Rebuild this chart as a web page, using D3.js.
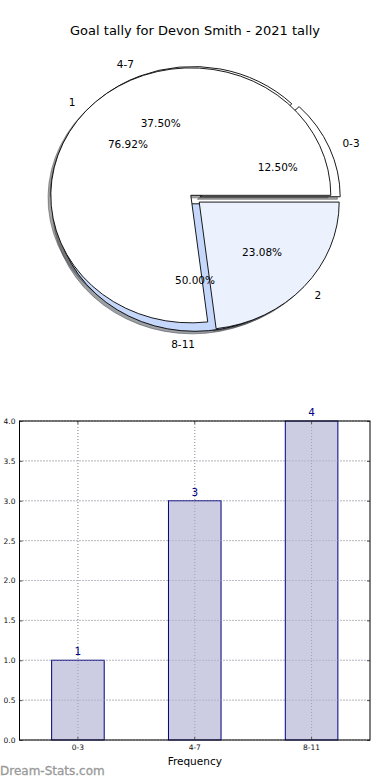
<!DOCTYPE html>
<html>
<head>
<meta charset="utf-8">
<script src="https://cdn.jsdelivr.net/npm/d3@7"></script>
<style>
  body { margin: 0; background: #fff; }
  svg { display: block; font-family: "DejaVu Sans", sans-serif; }
</style>
</head>
<body>
<div id="vis"></div>
<script>
'use strict';

// pie data (two pies drawn over each other)
var ringCats = ["0-3", "4-7", "8-11"];
var ringVals = [1, 3, 4];
var goalCats = ["1", "2"];
var goalVals = [10, 3];

// bar data
var barCats = ["0-3", "4-7", "8-11"];
var barVals = [1, 3, 4];
var yTicks = [0, 0.5, 1, 1.5, 2, 2.5, 3, 3.5, 4];

var ringColors = ["#ffffff", "#ffffff", "#c5d8fb"];
var goalColors = ["#ffffff", "#ebf1fd"];

var width = 390, height = 780;
var svg = d3.select("#vis").append("svg")
    .attr("width", width)
    .attr("height", height);

svg.append("text")
    .attr("x", 195).attr("y", 30)
    .attr("dy", "0.35em")
    .attr("text-anchor", "middle")
    .style("font-size", "13px")
    .style("fill", "#000")
    .text("Goal tally for Devon Smith - 2021 tally");

// ---- pie ----
var cx = 195, cy = 198.7;
var rx = 140, ry = 127.5;
var explode = 0.04;

var pie = d3.pie()
    .sort(null)
    .startAngle(Math.PI / 2)
    .endAngle(Math.PI / 2 - 2 * Math.PI)
    .value(function(d){ return d; });

var arc = d3.arc().innerRadius(0).outerRadius(1);

function wedges(vals, cats, colors){
    var total = d3.sum(vals);
    return pie(vals).map(function(d, i){
        var mid = (d.startAngle + d.endAngle) / 2;
        var ox = Math.sin(mid), oy = -Math.cos(mid);
        return {
            arc: d,
            label: cats[i],
            pct: (vals[i] / total * 100).toFixed(2) + "%",
            color: colors[i],
            x: cx + explode * ox * rx,
            y: cy + explode * oy * ry,
            ox: ox, oy: oy
        };
    });
}

var ring = wedges(ringVals, ringCats, ringColors);
var goals = wedges(goalVals, goalCats, goalColors);
var all = ring.concat(goals);

function shade(col){
    var c = d3.rgb(col);
    return d3.rgb(c.r * 0.3, c.g * 0.3, c.b * 0.3);
}

var pg = svg.append("g");

// shadows go under every wedge
pg.selectAll(".shadow")
    .data(all)
  .enter().append("path")
    .attr("class", "shadow")
    .attr("transform", function(d){
        return "translate(" + (d.x - 0.02 * rx) + "," + (d.y + 0.02 * ry) + ") scale(" + rx + "," + ry + ")";
    })
    .attr("d", function(d){ return arc(d.arc); })
    .attr("vector-effect", "non-scaling-stroke")
    .style("fill", function(d){ return shade(d.color); })
    .style("fill-opacity", 0.5)
    .style("stroke", function(d){ return shade(d.color); })
    .style("stroke-opacity", 0.5)
    .style("stroke-width", 1);

pg.selectAll(".wedge")
    .data(all)
  .enter().append("path")
    .attr("class", "wedge")
    .attr("transform", function(d){
        return "translate(" + d.x + "," + d.y + ") scale(" + rx + "," + ry + ")";
    })
    .attr("d", function(d){ return arc(d.arc); })
    .attr("vector-effect", "non-scaling-stroke")
    .style("fill", function(d){ return d.color; })
    .style("stroke", "#000")
    .style("stroke-width", 0.9);

pg.selectAll(".plabel")
    .data(all)
  .enter().append("text")
    .attr("class", "plabel")
    .attr("x", function(d){ return d.x + 1.1 * d.ox * rx; })
    .attr("y", function(d){ return d.y + 1.1 * d.oy * ry; })
    .attr("dy", "0.35em")
    .attr("text-anchor", function(d){ return d.ox > 0 ? "start" : "end"; })
    .style("font-size", "10.5px")
    .style("fill", "#000")
    .text(function(d){ return d.label; });

pg.selectAll(".pct")
    .data(all)
  .enter().append("text")
    .attr("class", "pct")
    .attr("x", function(d){ return d.x + 0.6 * d.ox * rx; })
    .attr("y", function(d){ return d.y + 0.6 * d.oy * ry; })
    .attr("dy", "0.35em")
    .attr("text-anchor", "middle")
    .style("font-size", "10.5px")
    .style("fill", "#000")
    .text(function(d){ return d.pct; });

// ---- bars ----
var plotLeft = 19.5, plotRight = 370, plotTop = 421, plotBottom = 740;

var x = d3.scaleBand()
    .domain(barCats)
    .range([plotLeft, plotRight])
    .paddingInner(0.55)
    .paddingOuter(0.275);
var y = d3.scaleLinear().domain([0, 4]).range([plotBottom, plotTop]);

var bg = svg.append("g");

function grid(cls, col){
    bg.selectAll("." + cls + "h")
        .data(yTicks)
      .enter().append("line")
        .attr("class", cls + "h")
        .attr("x1", plotLeft).attr("x2", plotRight)
        .attr("y1", function(d){ return y(d); })
        .attr("y2", function(d){ return y(d); })
        .style("stroke", col)
        .style("stroke-dasharray", "1,2");
    bg.selectAll("." + cls + "v")
        .data(barCats)
      .enter().append("line")
        .attr("class", cls + "v")
        .attr("x1", function(d){ return x(d) + x.bandwidth() / 2; })
        .attr("x2", function(d){ return x(d) + x.bandwidth() / 2; })
        .attr("y1", plotTop).attr("y2", plotBottom)
        .style("stroke", col)
        .style("stroke-dasharray", "1,2");
}

grid("g1", "#b0b0b0");

bg.selectAll(".bar")
    .data(barVals)
  .enter().append("rect")
    .attr("class", "bar")
    .attr("x", function(d, i){ return x(barCats[i]); })
    .attr("y", function(d){ return y(d); })
    .attr("width", x.bandwidth())
    .attr("height", function(d){ return plotBottom - y(d); })
    .style("fill", "#ccccE3")
    .style("stroke", "#000080")
    .style("stroke-width", 1);

// grid shows over the bars as well
grid("g2", "#a0a0b0");

bg.selectAll(".val")
    .data(barVals)
  .enter().append("text")
    .attr("class", "val")
    .attr("x", function(d, i){ return x(barCats[i]) + x.bandwidth() / 2; })
    .attr("y", function(d){ return y(d) - 5; })
    .attr("text-anchor", "middle")
    .style("font-size", "10.5px")
    .style("fill", "#000080")
    .text(function(d){ return d; });

// axes, ticks pointing inwards on all four sides
var ya = bg.append("g").attr("transform", "translate(" + plotLeft + ",0)")
    .call(d3.axisLeft(y).tickValues(yTicks).tickSize(-3).tickPadding(4).tickFormat(d3.format(".1f")));
var xa = bg.append("g").attr("transform", "translate(0," + plotBottom + ")")
    .call(d3.axisBottom(x).tickSize(-3).tickPadding(5));
var yr = bg.append("g").attr("transform", "translate(" + plotRight + ",0)")
    .call(d3.axisRight(y).tickValues(yTicks).tickSize(-3).tickFormat(""));
var xt = bg.append("g").attr("transform", "translate(0," + plotTop + ")")
    .call(d3.axisTop(x).tickSize(-3).tickFormat(""));

[ya, xa, yr, xt].forEach(function(a){
    a.select(".domain").remove();
    a.selectAll(".tick line").style("stroke", "#555");
    a.selectAll("text").style("font-size", "7.5px").style("fill", "#111")
        .style("font-family", "DejaVu Sans, sans-serif");
});

bg.append("rect")
    .attr("x", plotLeft).attr("y", plotTop)
    .attr("width", plotRight - plotLeft).attr("height", plotBottom - plotTop)
    .style("fill", "none")
    .style("stroke", "#000")
    .style("stroke-width", 1);

bg.append("text")
    .attr("x", (plotLeft + plotRight) / 2).attr("y", 761)
    .attr("dy", "0.35em")
    .attr("text-anchor", "middle")
    .style("font-size", "10.5px")
    .style("fill", "#000")
    .text("Frequency");

svg.append("text")
    .attr("x", 0).attr("y", 775)
    .style("font-size", "12px")
    .style("fill", "#999")
    .style("stroke", "#999")
    .style("stroke-width", 0.3)
    .text("Dream-Stats.com");
</script>
</body>
</html>
